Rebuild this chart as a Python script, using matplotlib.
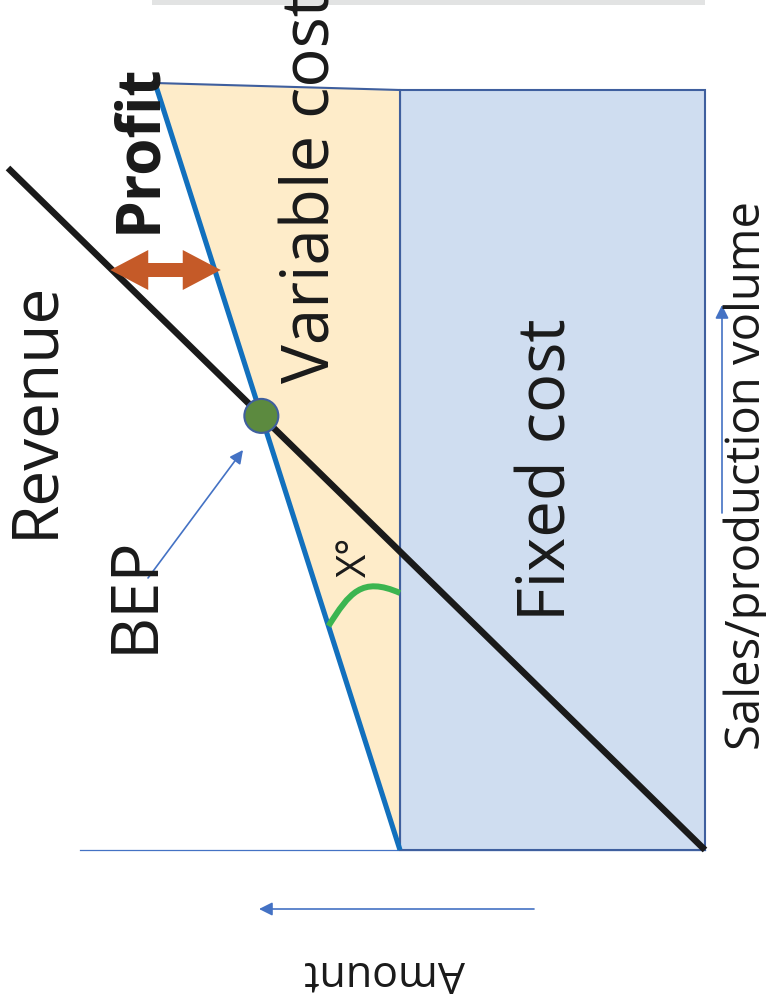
import matplotlib
matplotlib.use("Agg")
import matplotlib.pyplot as plt
from matplotlib.patches import Polygon, Rectangle, FancyArrowPatch, Circle, PathPatch
from matplotlib.path import Path
import numpy as np

plt.rcParams['font.family'] = ['Open Sans', 'DejaVu Sans']

# Break-even model (amount runs leftwards, volume runs upwards)
volume_range = [0, 767]          # sales / production volume
fixed_cost = 305                 # fixed cost amount
fixed_block_top = 760            # top of the fixed-cost block
variable_rate = 0.3194           # variable cost per unit volume
revenue_rate = 1.022             # revenue per unit volume
revenue_volume_end = 682         # volume where the revenue line leaves the frame
profit_volume = 580              # volume at which the profit gap is marked

fig = plt.figure(figsize=(7.66, 10.05), dpi=100)
ax = fig.add_axes([0, 0, 1, 1])
ax.set_xlim(705, -61)
ax.set_ylim(-155, 850)
ax.axis('off')

vol = np.array(volume_range, dtype=float)
total_cost = fixed_cost + variable_rate * vol

edge = '#3f5f9e'

# band along the top edge
ax.add_patch(Rectangle((0, 845), 553, 10, facecolor='#e2e3e3', edgecolor='none', zorder=0))

# amount axis baseline
ax.plot([625, 0], [0, 0], color='#4472c4', lw=0.9, zorder=1)

# fixed cost block
ax.add_patch(Rectangle((0, 0), fixed_cost, fixed_block_top, facecolor='#cfddf0',
                       edgecolor=edge, lw=1.5, zorder=2))

# variable cost wedge
ax.add_patch(Polygon([[fixed_cost, 0], [total_cost[1], vol[1]], [fixed_cost, fixed_block_top]],
                     closed=True, facecolor='#feecc9', edgecolor=edge, lw=1.5, zorder=2))

# total cost line
ax.plot([total_cost[0], total_cost[1]], [vol[0], vol[1]], color='#1270bd', lw=3.7,
        solid_capstyle='butt', zorder=4)

# revenue line
rev_v = np.array([0, revenue_volume_end], dtype=float)
ax.plot(revenue_rate * rev_v, rev_v, color='#1a1a1a', lw=4.7, solid_capstyle='butt', zorder=5)

# break-even point
bep_v = fixed_cost / (revenue_rate - variable_rate)
bep_a = revenue_rate * bep_v
ax.add_patch(Circle((bep_a, bep_v), 17, facecolor='#5c8a3f', edgecolor='#3f5f9e', lw=1.5, zorder=6))


def double_arrow(a_from, a_to, v, shaft=7, head_len=38, head_half=20):
    """Filled double-headed arrow between two amounts at one volume."""
    lo, hi = min(a_from, a_to), max(a_from, a_to)
    pts = [
        (lo, v), (lo + head_len, v + head_half), (lo + head_len, v + shaft),
        (hi - head_len, v + shaft), (hi - head_len, v + head_half), (hi, v),
        (hi - head_len, v - head_half), (hi - head_len, v - shaft),
        (lo + head_len, v - shaft), (lo + head_len, v - head_half),
    ]
    return Polygon(pts, closed=True, facecolor='#c55a28', edgecolor='none', zorder=6)


# profit gap between revenue and total cost
p_rev = revenue_rate * profit_volume
p_cost = fixed_cost + variable_rate * profit_volume
ax.add_patch(double_arrow(p_cost - 6, p_rev + 2, profit_volume))

# angle marker between total cost line and fixed cost edge
v0 = 224
a0 = fixed_cost + variable_rate * v0
verts = [(a0, v0), (a0 - 21, v0 + 33), (a0 - 33, v0 + 50), (fixed_cost, 257)]
ax.add_patch(PathPatch(Path(verts, [Path.MOVETO, Path.CURVE4, Path.CURVE4, Path.CURVE4]),
                       facecolor='none', edgecolor='#3cb550', lw=4.3, capstyle='butt', zorder=5))

arrow_kw = dict(arrowstyle='-|>,head_length=8,head_width=4', color='#4472c4', lw=1.2,
                shrinkA=0, shrinkB=0, zorder=6)
# BEP pointer
ax.add_patch(FancyArrowPatch((557, 272), (462, 400), **arrow_kw))
# amount direction
ax.add_patch(FancyArrowPatch((171, -59), (446, -59), **arrow_kw))
# volume direction
ax.add_patch(FancyArrowPatch((-17, 337), (-17, 545), **arrow_kw))

txt = dict(color='#1a1a1a', ha='center', va='center', zorder=7)
ax.text(670, 441, 'Revenue', rotation=90, fontsize=46, **txt)
ax.text(569, 256, 'BEP', rotation=90, fontsize=47, **txt)
ax.text(565, 702, 'Profit', rotation=90, fontsize=43.5, fontweight='bold', **txt)
ax.text(393, 467, 'Variable cost', rotation=90, fontsize=47, color='#1a1a1a',
        ha='left', va='center', rotation_mode='anchor', zorder=7)
ax.text(157, 380, 'Fixed cost', rotation=90, fontsize=47, **txt)
ax.text(349, 293, 'X°', rotation=90, fontsize=29, **txt)
ax.text(-42, 375, 'Sales/production volume', rotation=90, fontsize=34, **txt)
ax.text(320, -122, 'Amount', rotation=180, fontsize=31, **txt)

fig.savefig('out.png', dpi=100)
